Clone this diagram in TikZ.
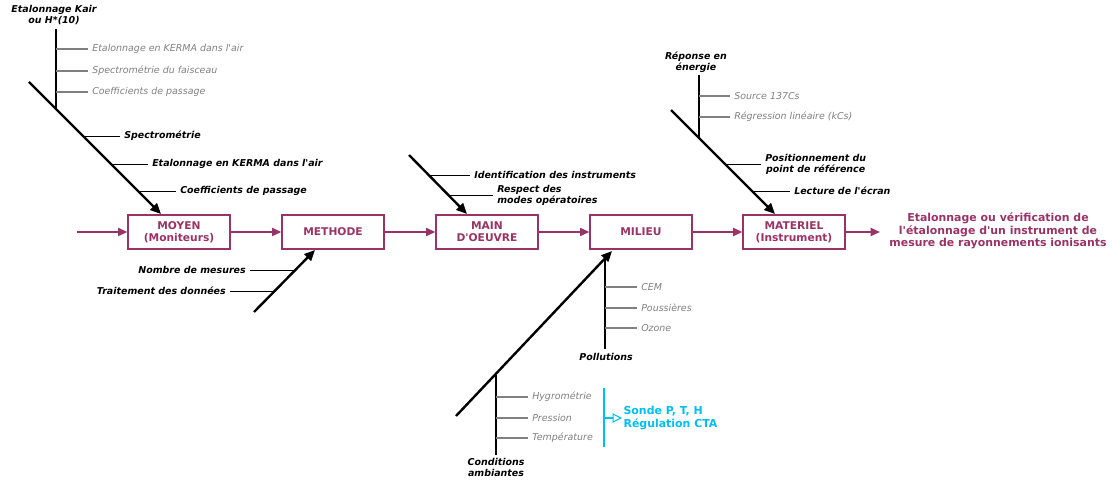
\documentclass[tikz,border=0pt]{standalone}
\usepackage{fontspec}
\setmainfont{DejaVu Sans}
\usetikzlibrary{arrows.meta}
\definecolor{plum}{RGB}{153,51,102}
\definecolor{sky}{RGB}{0,190,240}
\definecolor{grey}{RGB}{128,128,128}
\newcommand\qs{\textquotesingle}
\tikzset{
  box/.style={draw=plum,line width=1.4pt,minimum width=76pt,minimum height=25pt,inner sep=0pt,align=center,text=plum,font=\fontsize{8}{9.2}\selectfont\bfseries},
  flow/.style={draw=plum,line width=1.4pt,-{Triangle[length=7pt,width=6pt]}},
  bone/.style={line width=1.8pt,-{Triangle[length=8pt,width=7pt]}},
  sub/.style={line width=1pt},
  tick/.style={line width=0.7pt},
  gtick/.style={line width=0.8pt,draw=grey},
  lbl/.style={font=\fontsize{7.1}{8.2}\selectfont\bfseries\itshape,inner sep=3pt,align=left},
  glbl/.style={font=\fontsize{7.1}{8.2}\selectfont\itshape,text=grey,inner sep=3pt,anchor=west},
}
\begin{document}
\begin{tikzpicture}[x=0.75pt,y=-0.75pt]
\useasboundingbox (0,0) rectangle (1112,484);
% main boxes
\node[box] (moyen) at (179,232) {MOYEN\\(Moniteurs)};
\node[box] (methode) at (333,232) {METHODE};
\node[box] (main) at (487,232) {MAIN\\D\qs OEUVRE};
\node[box] (milieu) at (641,232) {MILIEU};
\node[box] (materiel) at (794,232) {MATERIEL\\(Instrument)};
\coordinate (in) at (77,232);
\node[font=\fontsize{8.2}{9.6}\selectfont\bfseries,text=plum,align=center] (out) at (998,231) {Etalonnage ou vérification de\\l\qs étalonnage d\qs un instrument de\\mesure de rayonnements ionisants};
\draw[flow] (in) -- (moyen);
\draw[flow] (moyen) -- (methode);
\draw[flow] (methode) -- (main);
\draw[flow] (main) -- (milieu);
\draw[flow] (milieu) -- (materiel);
\coordinate (oend) at (880,232);
\draw[flow] (materiel.east) -- (oend);

% MOYEN bone
\coordinate (m0) at (29,82);
\coordinate (m1) at (161,214);
\draw[bone] (m0) -- (m1);
\coordinate (mv0) at (56,29);
\coordinate (mv1) at (56,109);
\draw[sub] (mv0) -- (mv1);
\node[lbl,align=center,anchor=south,inner sep=1pt] (kair) at (54,26) {Etalonnage Kair\\ou H*(10)};
\node[glbl] (g1) at (88,49) {Etalonnage en KERMA dans l\qs air};
\node[glbl] (g2) at (88,71) {Spectrométrie du faisceau};
\node[glbl] (g3) at (88,92) {Coefficients de passage};
\draw[gtick] (56,49) -- (g1.west);
\draw[gtick] (56,71) -- (g2.west);
\draw[gtick] (56,92) -- (g3.west);
\node[lbl,anchor=west] (b1) at (120,136) {Spectrométrie};
\node[lbl,anchor=west] (b2) at (148,164) {Etalonnage en KERMA dans l\qs air};
\node[lbl,anchor=west] (b3) at (176,191) {Coefficients de passage};
\draw[tick] (83,136) -- (b1.west);
\draw[tick] (111,164) -- (b2.west);
\draw[tick] (138,191) -- (b3.west);

% METHODE bone
\coordinate (t0) at (254,312);
\coordinate (t1) at (315,250);
\draw[bone] (t0) -- (t1);
\node[lbl,anchor=east] (n1) at (250,270) {Nombre de mesures};
\node[lbl,anchor=east] (n2) at (230,291) {Traitement des données};
\draw[tick] (n1.east) -- (296,270);
\draw[tick] (n2.east) -- (275,291);

% MAIN D'OEUVRE bone
\coordinate (o0) at (409,155);
\coordinate (o1) at (467,214);
\draw[bone] (o0) -- (o1);
\node[lbl,anchor=west] (i1) at (470,175) {Identification des instruments};
\node[lbl,anchor=west] (i2) at (493,195) {Respect des\\modes opératoires};
\draw[tick] (429,175) -- (i1.west);
\draw[tick] (449,195) -- (i2.west);

% MILIEU bone
\coordinate (l0) at (456,416);
\coordinate (l1) at (612,251);
\draw[bone] (l0) -- (l1);
\coordinate (pv0) at (605,259);
\coordinate (pv1) at (605,349);
\draw[sub] (pv0) -- (pv1);
\node[lbl,anchor=north,inner sep=1pt] (poll) at (606,352) {Pollutions};
\node[glbl] (p1) at (637,287) {CEM};
\node[glbl] (p2) at (637,308) {Poussières};
\node[glbl] (p3) at (637,328) {Ozone};
\draw[gtick] (605,287) -- (p1.west);
\draw[gtick] (605,308) -- (p2.west);
\draw[gtick] (605,328) -- (p3.west);
\coordinate (cv0) at (496,375);
\coordinate (cv1) at (496,455);
\draw[sub] (cv0) -- (cv1);
\node[lbl,align=center,anchor=north,inner sep=1pt] (cond) at (496,457) {Conditions\\ambiantes};
\node[glbl] (c1) at (528,397) {Hygrométrie};
\node[glbl] (c2) at (528,418) {Pression};
\node[glbl] (c3) at (528,438) {Température};
\draw[gtick] (496,397) -- (c1.west);
\draw[gtick] (496,418) -- (c2.west);
\draw[gtick] (496,438) -- (c3.west);
\coordinate (s0) at (604,388);
\coordinate (s1) at (604,447);
\draw[sky,line width=1.6pt] (s0) -- (s1);
\node[font=\fontsize{8.2}{9.6}\selectfont\bfseries,text=sky,align=left,anchor=west,inner sep=1pt] (sonde) at (622,418) {Sonde P, T, H\\Régulation CTA};
\coordinate (sa) at (604,418);
\draw[sky,line width=0.8pt,-{Triangle[open,length=7pt,width=7pt]}] (sa) -- (sonde.west);

% MATERIEL bone
\coordinate (r0) at (671,110);
\coordinate (r1) at (775,214);
\draw[bone] (r0) -- (r1);
\coordinate (rv0) at (699,75);
\coordinate (rv1) at (699,138);
\draw[sub] (rv0) -- (rv1);
\node[lbl,align=center,anchor=south,inner sep=1pt] (rep) at (696,74) {Réponse en\\énergie};
\node[glbl] (e1) at (730,96) {Source 137Cs};
\node[glbl] (e2) at (730,117) {Régression linéaire (kCs)};
\draw[gtick] (699,96) -- (e1.west);
\draw[gtick] (699,117) -- (e2.west);
\node[lbl,anchor=west,align=center] (x1) at (761,164) {Positionnement du\\point de référence};
\node[lbl,anchor=west] (x2) at (790,191) {Lecture de l\qs écran};
\draw[tick] (725,164) -- (x1.west);
\draw[tick] (752,191) -- (x2.west);
\end{tikzpicture}
\end{document}
